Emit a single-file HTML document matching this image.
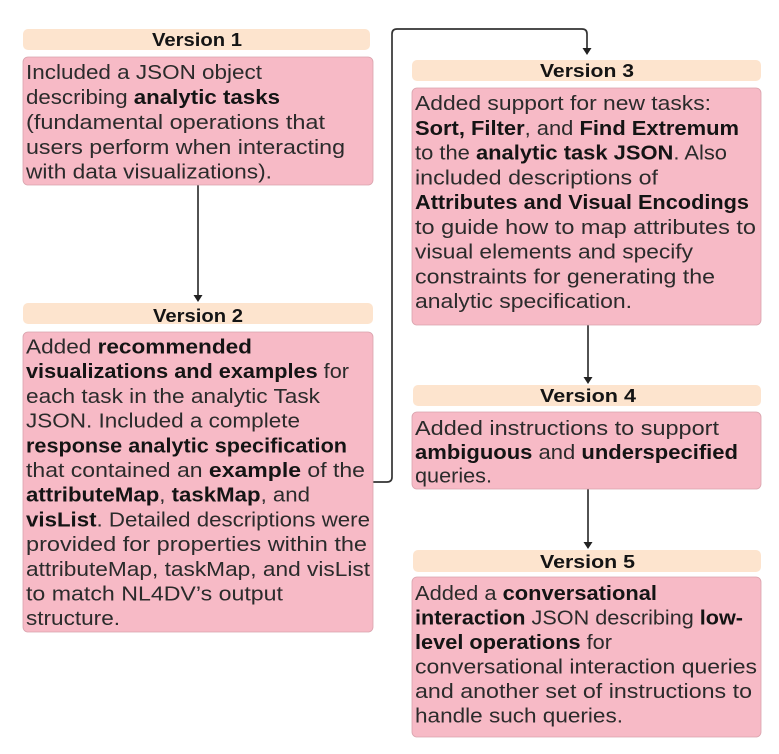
<!DOCTYPE html>
<html>
<head>
<meta charset="utf-8">
<style>
  html,body{margin:0;padding:0;background:#fff;}
  svg{display:block;}
  text{font-family:"Liberation Sans",Arial,sans-serif;}
  .t{font-size:20px;fill:#2b2b2b;}
  .b{font-weight:bold;fill:#141414;}
  .h{font-size:18px;font-weight:bold;fill:#141414;}
  .hd{fill:#fde4ce;}
  .bd{fill:#f7bac6;stroke:#d9a3ad;stroke-width:0.8;}
  .ln{stroke:#333;stroke-width:1.7;fill:none;}
  .ar{fill:#222;}
</style>
</head>
<body>
<svg width="779" height="754" viewBox="0 0 779 754" xmlns="http://www.w3.org/2000/svg">
  <!-- Connectors -->
  <line class="ln" x1="198" y1="185" x2="198" y2="296"/>
  <polygon class="ar" points="193.5,295 202.5,295 198,302"/>
  <path class="ln" d="M373,482 H387 Q392,482 392,477 V34 Q392,29 397,29 H582 Q587,29 587,34 V49"/>
  <polygon class="ar" points="582.5,48 591.5,48 587,55"/>
  <line class="ln" x1="588" y1="325" x2="588" y2="378"/>
  <polygon class="ar" points="583.5,377 592.5,377 588,384"/>
  <line class="ln" x1="588" y1="489" x2="588" y2="543"/>
  <polygon class="ar" points="583.5,542 592.5,542 588,549"/>

  <!-- Version 1 -->
  <rect class="hd" x="23" y="29" width="347" height="21" rx="5"/>
  <text class="h" x="152" y="46" textLength="90" lengthAdjust="spacingAndGlyphs">Version 1</text>
  <rect class="bd" x="23" y="57" width="350" height="128" rx="5"/>
  <text class="t" x="26" y="79" textLength="236" lengthAdjust="spacingAndGlyphs">Included a JSON object</text>
  <text class="t" x="26" y="104" textLength="254" lengthAdjust="spacingAndGlyphs">describing <tspan class="b">analytic tasks</tspan></text>
  <text class="t" x="26" y="129" textLength="299" lengthAdjust="spacingAndGlyphs">(fundamental operations that</text>
  <text class="t" x="26" y="154" textLength="319" lengthAdjust="spacingAndGlyphs">users perform when interacting</text>
  <text class="t" x="26" y="178.5" textLength="246" lengthAdjust="spacingAndGlyphs">with data visualizations).</text>

  <!-- Version 2 -->
  <rect class="hd" x="23" y="303" width="350" height="21" rx="5"/>
  <text class="h" x="153" y="322" textLength="90" lengthAdjust="spacingAndGlyphs">Version 2</text>
  <rect class="bd" x="23" y="332" width="350" height="300" rx="5"/>
  <text class="t" x="26" y="353.5" textLength="226" lengthAdjust="spacingAndGlyphs">Added <tspan class="b">recommended</tspan></text>
  <text class="t" x="26" y="378.2" textLength="323" lengthAdjust="spacingAndGlyphs"><tspan class="b">visualizations and examples</tspan> for</text>
  <text class="t" x="26" y="402.9" textLength="294" lengthAdjust="spacingAndGlyphs">each task in the analytic Task</text>
  <text class="t" x="26" y="427.6" textLength="274" lengthAdjust="spacingAndGlyphs">JSON. Included a complete</text>
  <text class="t" x="26" y="452.3" textLength="321" lengthAdjust="spacingAndGlyphs"><tspan class="b">response analytic specification</tspan></text>
  <text class="t" x="26" y="477" textLength="339" lengthAdjust="spacingAndGlyphs">that contained an <tspan class="b">example</tspan> of the</text>
  <text class="t" x="26" y="501.7" textLength="284" lengthAdjust="spacingAndGlyphs"><tspan class="b">attributeMap</tspan>, <tspan class="b">taskMap</tspan>, and</text>
  <text class="t" x="26" y="526.4" textLength="344" lengthAdjust="spacingAndGlyphs"><tspan class="b">visList</tspan>. Detailed descriptions were</text>
  <text class="t" x="26" y="551.1" textLength="341" lengthAdjust="spacingAndGlyphs">provided for properties within the</text>
  <text class="t" x="26" y="575.8" textLength="344" lengthAdjust="spacingAndGlyphs">attributeMap, taskMap, and visList</text>
  <text class="t" x="26" y="600.5" textLength="257" lengthAdjust="spacingAndGlyphs">to match NL4DV’s output</text>
  <text class="t" x="26" y="625.2" textLength="94" lengthAdjust="spacingAndGlyphs">structure.</text>

  <!-- Version 3 -->
  <rect class="hd" x="412" y="60" width="349" height="21" rx="5"/>
  <text class="h" x="540" y="77" textLength="94" lengthAdjust="spacingAndGlyphs">Version 3</text>
  <rect class="bd" x="412" y="88" width="349" height="237" rx="5"/>
  <text class="t" x="415" y="110" textLength="296" lengthAdjust="spacingAndGlyphs">Added support for new tasks:</text>
  <text class="t" x="415" y="134.75" textLength="324" lengthAdjust="spacingAndGlyphs"><tspan class="b">Sort, Filter</tspan>, and <tspan class="b">Find Extremum</tspan></text>
  <text class="t" x="415" y="159.5" textLength="312" lengthAdjust="spacingAndGlyphs">to the <tspan class="b">analytic task JSON</tspan>. Also</text>
  <text class="t" x="415" y="184.25" textLength="243" lengthAdjust="spacingAndGlyphs">included descriptions of</text>
  <text class="t" x="415" y="209" textLength="334" lengthAdjust="spacingAndGlyphs"><tspan class="b">Attributes and Visual Encodings</tspan></text>
  <text class="t" x="415" y="233.75" textLength="341" lengthAdjust="spacingAndGlyphs">to guide how to map attributes to</text>
  <text class="t" x="415" y="258.5" textLength="278" lengthAdjust="spacingAndGlyphs">visual elements and specify</text>
  <text class="t" x="415" y="283.25" textLength="300" lengthAdjust="spacingAndGlyphs">constraints for generating the</text>
  <text class="t" x="415" y="308" textLength="217" lengthAdjust="spacingAndGlyphs">analytic specification.</text>

  <!-- Version 4 -->
  <rect class="hd" x="413" y="385" width="348" height="21" rx="5"/>
  <text class="h" x="540" y="402" textLength="96" lengthAdjust="spacingAndGlyphs">Version 4</text>
  <rect class="bd" x="412" y="412" width="349" height="77" rx="5"/>
  <text class="t" x="415" y="435" textLength="304" lengthAdjust="spacingAndGlyphs">Added instructions to support</text>
  <text class="t" x="415" y="459" textLength="323" lengthAdjust="spacingAndGlyphs"><tspan class="b">ambiguous</tspan> and <tspan class="b">underspecified</tspan></text>
  <text class="t" x="415" y="482.5" textLength="77" lengthAdjust="spacingAndGlyphs">queries.</text>

  <!-- Version 5 -->
  <rect class="hd" x="413" y="550" width="348" height="22" rx="5"/>
  <text class="h" x="540" y="568" textLength="95" lengthAdjust="spacingAndGlyphs">Version 5</text>
  <rect class="bd" x="412" y="577" width="349" height="160" rx="5"/>
  <text class="t" x="415" y="600" textLength="242" lengthAdjust="spacingAndGlyphs">Added a <tspan class="b">conversational</tspan></text>
  <text class="t" x="415" y="624.5" textLength="328" lengthAdjust="spacingAndGlyphs"><tspan class="b">interaction</tspan> JSON describing <tspan class="b">low-</tspan></text>
  <text class="t" x="415" y="649" textLength="197" lengthAdjust="spacingAndGlyphs"><tspan class="b">level operations</tspan> for</text>
  <text class="t" x="415" y="673.5" textLength="342" lengthAdjust="spacingAndGlyphs">conversational interaction queries</text>
  <text class="t" x="415" y="698" textLength="337" lengthAdjust="spacingAndGlyphs">and another set of instructions to</text>
  <text class="t" x="415" y="722.5" textLength="208" lengthAdjust="spacingAndGlyphs">handle such queries.</text>
</svg>
</body>
</html>
